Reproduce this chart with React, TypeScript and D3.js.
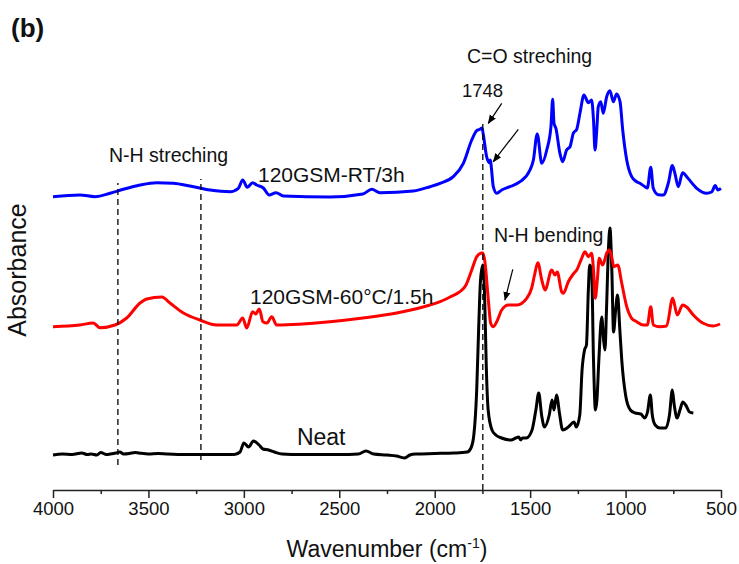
import React, { useEffect, useRef } from "react";
import * as d3 from "d3";

// FTIR spectra: [wavenumber (cm-1), absorbance (a.u., offset)]
const neat: [number, number][] = [
  [4000, 0.35], [3950, 0.36], [3900, 0.355], [3850, 0.37], [3820, 0.355], [3800, 0.36], [3770, 0.35], [3750, 0.375],
  [3720, 0.355], [3700, 0.36], [3670, 0.37], [3650, 0.38], [3630, 0.36], [3600, 0.365], [3570, 0.375], [3550, 0.37],
  [3500, 0.36], [3450, 0.365], [3400, 0.36], [3300, 0.355], [3200, 0.355], [3100, 0.355], [3050, 0.355], [3020, 0.38],
  [3000, 0.47], [2975, 0.43], [2950, 0.49], [2920, 0.45], [2900, 0.41], [2870, 0.40], [2840, 0.38], [2800, 0.36],
  [2700, 0.355], [2500, 0.355], [2400, 0.36], [2360, 0.39], [2320, 0.36], [2250, 0.35], [2200, 0.34], [2160, 0.32],
  [2130, 0.35], [2100, 0.36], [2000, 0.365], [1900, 0.37], [1830, 0.38], [1810, 0.42], [1795, 0.55], [1780, 1.0],
  [1770, 1.6], [1760, 2.1], [1748, 2.25], [1738, 1.9], [1730, 1.25], [1720, 0.8], [1700, 0.6], [1680, 0.55],
  [1650, 0.52], [1600, 0.5], [1575, 0.52], [1560, 0.53], [1550, 0.5], [1540, 0.52], [1520, 0.52], [1490, 0.6],
  [1470, 0.8], [1455, 0.97], [1440, 0.75], [1425, 0.63], [1400, 0.75], [1385, 0.9], [1375, 0.8], [1362, 0.95],
  [1345, 0.75], [1330, 0.6], [1300, 0.63], [1270, 0.68], [1258, 0.63], [1240, 0.75], [1228, 1.2], [1215, 1.4],
  [1205, 1.45], [1195, 2.0], [1188, 2.25], [1178, 2.2], [1168, 1.3], [1158, 0.8], [1150, 0.9], [1140, 1.3],
  [1125, 1.73], [1115, 1.5], [1108, 1.4], [1100, 1.8], [1090, 2.4], [1082, 2.62], [1072, 2.2], [1063, 1.58],
  [1052, 1.8], [1042, 1.95], [1030, 1.6], [1020, 1.3], [1000, 0.95], [975, 0.8], [950, 0.77], [920, 0.76],
  [900, 0.72], [885, 0.78], [870, 0.95], [860, 0.75], [845, 0.65], [820, 0.62], [790, 0.62], [770, 0.75],
  [755, 1.0], [745, 0.85], [730, 0.72], [715, 0.8], [700, 0.88], [685, 0.85], [665, 0.78], [645, 0.77],
];

const gsm60: [number, number][] = [
  [4000, 1.633], [3859, 1.65], [3789, 1.67], [3754, 1.623], [3675, 1.65], [3614, 1.72], [3544, 1.87], [3509, 1.91],
  [3430, 1.93], [3387, 1.87], [3319, 1.773], [3230, 1.70], [3142, 1.65], [3037, 1.65], [3006, 1.72], [2985, 1.62],
  [2954, 1.783], [2938, 1.76], [2919, 1.81], [2900, 1.683], [2879, 1.67], [2854, 1.733], [2828, 1.65], [2549, 1.683],
  [2376, 1.72], [2199, 1.77], [2025, 1.85], [1972, 1.883], [1920, 1.93], [1868, 1.983], [1836, 2.05], [1806, 2.2],
  [1780, 2.333], [1759, 2.367], [1747, 2.37], [1737, 2.283], [1719, 1.9], [1707, 1.67], [1693, 1.633], [1675, 1.683],
  [1649, 1.8], [1614, 1.85], [1570, 1.85], [1518, 1.917], [1492, 2.02], [1477, 2.15], [1460, 2.273], [1439, 2.1],
  [1422, 2.0], [1387, 2.2], [1370, 2.15], [1358, 2.18], [1335, 1.983], [1326, 1.967], [1300, 2.083], [1274, 2.16],
  [1256, 2.2], [1230, 2.317], [1213, 2.383], [1195, 2.333], [1178, 2.367], [1168, 2.2], [1159, 1.917], [1148, 2.1],
  [1138, 2.317], [1120, 2.25], [1099, 2.367], [1085, 2.4], [1073, 2.333], [1061, 2.233], [1041, 2.25], [1020, 2.067],
  [994, 1.833], [968, 1.717], [942, 1.683], [907, 1.65], [886, 1.65], [868, 1.833], [855, 1.65], [820, 1.633],
  [785, 1.64], [753, 1.917], [729, 1.75], [701, 1.85], [680, 1.83], [645, 1.75], [593, 1.667], [540, 1.64], [505, 1.66],
];

const gsmRT: [number, number][] = [
  [4000, 2.933], [3859, 2.95], [3780, 2.933], [3701, 2.967], [3632, 3.007], [3544, 3.05], [3457, 3.073], [3370, 3.067],
  [3282, 3.04], [3177, 3.0], [3073, 2.983], [3029, 3.017], [3006, 3.1], [2982, 3.027], [2954, 3.073], [2933, 3.05],
  [2898, 3.02], [2867, 2.95], [2832, 2.973], [2793, 2.94], [2549, 2.93], [2376, 2.96], [2330, 3.007], [2287, 2.973],
  [2112, 2.99], [2025, 3.033], [1972, 3.067], [1903, 3.133], [1850, 3.267], [1806, 3.5], [1780, 3.593], [1763, 3.607],
  [1752, 3.62], [1745, 3.55], [1728, 3.333], [1714, 3.273], [1708, 3.3], [1703, 3.22], [1693, 3.033], [1675, 2.967],
  [1649, 3.0], [1606, 3.033], [1553, 3.083], [1501, 3.2], [1483, 3.3], [1463, 3.56], [1439, 3.267], [1413, 3.4],
  [1391, 3.633], [1382, 3.907], [1375, 3.667], [1365, 3.617], [1344, 3.367], [1330, 3.283], [1309, 3.4], [1291, 3.433],
  [1274, 3.567], [1256, 3.607], [1239, 3.767], [1218, 3.95], [1195, 3.873], [1178, 3.9], [1168, 3.7], [1160, 3.4],
  [1151, 3.6], [1143, 3.833], [1130, 3.883], [1117, 3.767], [1099, 3.933], [1082, 3.993], [1064, 3.883], [1047, 3.96],
  [1029, 3.883], [1015, 3.6], [994, 3.3], [968, 3.133], [942, 3.083], [925, 3.067], [898, 3.033], [886, 3.02],
  [868, 3.227], [855, 3.017], [829, 2.953], [802, 2.95], [776, 3.07], [755, 3.244], [742, 3.17], [724, 3.033],
  [701, 3.173], [673, 3.117], [627, 3.017], [575, 2.967], [549, 2.98], [530, 3.044], [517, 3.0], [500, 3.014],
];

const xTicks = [4000, 3500, 3000, 2500, 2000, 1500, 1000, 500];
const xMinorTicks = [3750, 3250, 2750, 2250, 1750, 1250, 750];

// dashed guide lines: [wavenumber, from, to]
const guides: [number, number, number][] = [
  [3660, 0.25, 3.07],
  [3225, 0.3, 3.11],
  [1748, 0.0, 3.7],
];

// arrows: [wn0, a0, wn1 (tip), a1 (tip)]
const arrows: [number, number, number, number][] = [
  [1649, 3.867, 1719, 3.667],
  [1562, 3.607, 1693, 3.283],
  [1591, 2.207, 1632, 1.9],
];

// labels: [text, wn, a(baseline), fontSize]
const labels: [string, number, number, number][] = [
  ["120GSM-RT/3h", 2926, 3.08, 21],
  ["120GSM-60\u00B0C/1.5h", 2968, 1.86, 21],
  ["Neat", 2722, 0.45, 23],
  ["N-H streching", 3707, 3.28, 19.5],
  ["C=O streching", 1831, 4.27, 19.5],
  ["1748", 1857, 3.93, 18.5],
  ["N-H bending", 1690, 2.48, 19.5],
];

const W = 739;
const H = 564;
const FONT = "'Liberation Sans', Arial, Helvetica, sans-serif";

export default function App() {
  const axisRef = useRef<SVGGElement>(null);
  const x = d3.scaleLinear().domain([4000, 500]).range([53, 721]);
  const y = d3.scaleLinear().domain([0, 4.6]).range([490, 30]);

  useEffect(() => {
    if (!axisRef.current) return;
    const g = d3.select(axisRef.current);
    g.selectAll("*").remove();
    const major = d3.axisBottom(x).tickValues(xTicks).tickSize(8).tickSizeOuter(0).tickPadding(4)
      .tickFormat((d) => String(d));
    g.call(major as any);
    g.select(".domain").attr("stroke", "#222").attr("stroke-width", 1.5);
    g.selectAll(".tick line").attr("stroke", "#222").attr("stroke-width", 1.5);
    g.selectAll(".tick text").attr("font-size", 18.5).attr("font-family", FONT).attr("fill", "#111");
    const minor = g.append("g");
    minor.call(d3.axisBottom(x).tickValues(xMinorTicks).tickSize(4).tickSizeOuter(0).tickFormat(() => "") as any);
    minor.select(".domain").remove();
    minor.selectAll(".tick line").attr("stroke", "#222").attr("stroke-width", 1.5);
  }, []);

  const line = d3.line<[number, number]>().x((d) => x(d[0])).y((d) => y(d[1])).curve(d3.curveMonotoneX);

  return (
    <svg width={W} height={H} style={{ position: "fixed", left: 0, top: 0, background: "#fff" }} fontFamily={FONT}>
      <defs>
        <marker id="ah" viewBox="0 0 10 10" refX="9" refY="5" markerWidth="9" markerHeight="9" orient="auto" markerUnits="userSpaceOnUse">
          <path d="M0,1 L10,5 L0,9 Z" fill="#000" />
        </marker>
      </defs>
      <path d={line(neat) || ""} fill="none" stroke="#000" strokeWidth={3} strokeLinejoin="round" />
      <path d={line(gsm60) || ""} fill="none" stroke="#ff0000" strokeWidth={3} strokeLinejoin="round" />
      <path d={line(gsmRT) || ""} fill="none" stroke="#0000ff" strokeWidth={3} strokeLinejoin="round" />
      {guides.map((g, i) => (
        <line key={i} x1={x(g[0])} x2={x(g[0])} y1={y(g[1])} y2={y(g[2])} stroke="#000" strokeWidth={1.3} strokeDasharray="6,4" />
      ))}
      {arrows.map((a, i) => (
        <line key={i} x1={x(a[0])} y1={y(a[1])} x2={x(a[2])} y2={y(a[3])} stroke="#000" strokeWidth={1.2} markerEnd="url(#ah)" />
      ))}
      {labels.map((l, i) => (
        <text key={i} x={x(l[1])} y={y(l[2])} fontSize={l[3]} fill="#111">{l[0]}</text>
      ))}
      <g ref={axisRef} transform={`translate(0,${y(0)})`} />
      <text x={(53 + 721) / 2} y={557} textAnchor="middle" fontSize={23} fill="#111">
        Wavenumber (cm<tspan dy={-9} fontSize={14}>-1</tspan><tspan dy={9}>)</tspan>
      </text>
      <text transform={`translate(26,${270}) rotate(-90)`} textAnchor="middle" fontSize={25} fill="#111">Absorbance</text>
      <text x={11} y={37} fontSize={26} fontWeight="bold" fill="#111">(b)</text>
    </svg>
  );
}
